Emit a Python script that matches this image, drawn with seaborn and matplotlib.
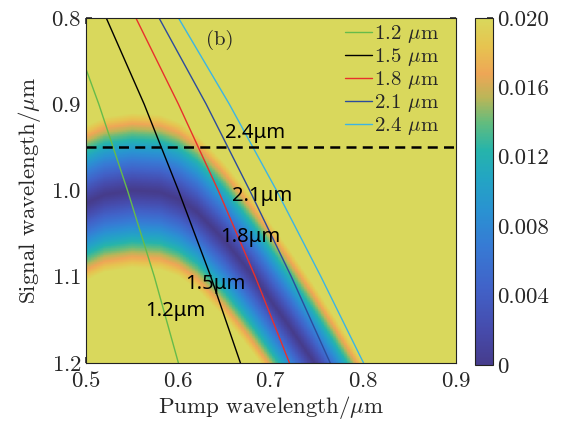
import matplotlib
matplotlib.use("Agg")
import matplotlib.pyplot as plt
import seaborn as sns
import numpy as np
from matplotlib.colors import LinearSegmentedColormap
from matplotlib.ticker import MultipleLocator

# idler wavelengths (um) and the pump wavelength where each line crosses the signal rows
idler_labels = ["1.2", "1.5", "1.8", "2.1", "2.4"]
idler_colors = ["#66bb4a", "#000000", "#e8302c", "#2c4c9c", "#3cb4e4"]
signal_rows = [0.8, 0.9, 1.0, 1.1, 1.2]
pump_12 = [0.480, 0.514, 0.545, 0.574, 0.600]
pump_15 = [0.522, 0.563, 0.600, 0.635, 0.667]
pump_18 = [0.554, 0.600, 0.643, 0.683, 0.720]
pump_21 = [0.579, 0.630, 0.677, 0.722, 0.764]
pump_24 = [0.600, 0.655, 0.706, 0.754, 0.800]

# centre of the low-mismatch band and its half width
ridge_pump = [0.45, 0.48, 0.50, 0.52, 0.55, 0.58, 0.60, 0.62, 0.65, 0.68, 0.70, 0.72, 0.75, 0.78, 0.80, 0.85, 0.90]
ridge_signal = [1.05, 1.03, 1.015, 1.005, 1.000, 1.002, 1.010, 1.025, 1.058, 1.098, 1.128, 1.158, 1.205, 1.255, 1.29, 1.38, 1.47]
band_halfwidth = 0.09
band_power = 1.15
vmax = 0.02

cbar_ticks = [0, 0.004, 0.008, 0.012, 0.016, 0.020]
cbar_labels = ["0", "0.004", "0.008", "0.012", "0.016", "0.020"]

notes = ["2.4μm", "2.1μm", "1.8μm", "1.5μm", "1.2μm"]
note_x = [0.683, 0.690, 0.678, 0.640, 0.597]
note_y = [0.933, 1.007, 1.054, 1.108, 1.140]


def main():
    sns.set_theme(style="ticks")
    plt.rcParams["font.family"] = ["cmr10", "DejaVu Serif"]
    plt.rcParams["mathtext.fontset"] = "cm"
    plt.rcParams["axes.formatter.use_mathtext"] = True
    plt.rcParams["axes.unicode_minus"] = False

    parula = LinearSegmentedColormap.from_list("parula_like", [
        (0.00, (70/255, 60/255, 140/255)),
        (0.10, (70/255, 75/255, 172/255)),
        (0.22, (65/255, 98/255, 200/255)),
        (0.34, (55/255, 122/255, 212/255)),
        (0.44, (42/255, 145/255, 210/255)),
        (0.54, (35/255, 165/255, 195/255)),
        (0.62, (38/255, 180/255, 170/255)),
        (0.70, (100/255, 188/255, 125/255)),
        (0.77, (185/255, 182/255, 88/255)),
        (0.84, (238/255, 166/255, 86/255)),
        (0.92, (230/255, 196/255, 80/255)),
        (1.00, (217/255, 216/255, 92/255)),
    ])

    fig = plt.figure(figsize=(5.61, 4.25), dpi=100)
    ax = fig.add_axes([0.153, 0.146, 0.66, 0.812])
    cax = fig.add_axes([0.847, 0.141, 0.032, 0.817])

    px = np.linspace(0.5, 0.9, 500)
    sy = np.linspace(0.8, 1.2, 500)
    P, S = np.meshgrid(px, sy)
    centre = np.interp(P, ridge_pump, ridge_signal)
    dist = np.abs(S - centre) / band_halfwidth
    field = np.clip(vmax * dist ** band_power, 0, vmax)

    mesh = ax.pcolormesh(px, sy, field, cmap=parula, vmin=0, vmax=vmax,
                         shading="auto", rasterized=True)

    for lab, col, pumps in zip(idler_labels, idler_colors,
                               [pump_12, pump_15, pump_18, pump_21, pump_24]):
        sns.lineplot(x=pumps, y=signal_rows, ax=ax, color=col, lw=1.0,
                     sort=False, estimator=None, label=lab + r" $\mu$m")

    ax.axhline(0.95, color="black", lw=1.8, dashes=(4, 2.5))

    for t, x, y in zip(notes, note_x, note_y):
        ax.text(x, y, t, ha="center", va="center", fontsize=14.5,
                family=["Noto Sans", "DejaVu Sans"], color="black")
    ax.text(0.645, 0.826, "(b)", ha="center", va="center", fontsize=15)

    ax.set_xlim(0.5, 0.9)
    ax.set_ylim(1.2, 0.8)
    ax.set_xticks([0.5, 0.6, 0.7, 0.8, 0.9])
    ax.set_yticks([0.8, 0.9, 1.0, 1.1, 1.2])
    ax.yaxis.set_minor_locator(MultipleLocator(0.05))
    ax.tick_params(axis="both", which="both", direction="in", top=True, right=True,
                   color="#333333", labelsize=16.5)
    ax.tick_params(axis="both", which="major", length=4)
    ax.tick_params(axis="y", which="minor", length=2.5)
    ax.tick_params(axis="x", pad=6)
    ax.tick_params(axis="y", pad=3)
    for sp in ax.spines.values():
        sp.set_color("#222222")
        sp.set_linewidth(0.8)

    ax.set_xlabel(r"Pump wavelength/$\mu$m", fontsize=16.5, labelpad=2)
    ax.set_ylabel(r"Signal wavelength/$\mu$m", fontsize=16.5, labelpad=6)

    ax.legend(loc="upper right", bbox_to_anchor=(0.955, 0.985), frameon=False,
              fontsize=15, handlelength=1.3, handletextpad=0.1,
              labelspacing=0.05, borderpad=0, borderaxespad=0)

    cb = fig.colorbar(mesh, cax=cax)
    cb.set_ticks(cbar_ticks)
    cb.set_ticklabels(cbar_labels)
    cax.yaxis.set_minor_locator(MultipleLocator(0.002))
    cax.tick_params(which="both", direction="in", labelsize=16.5, pad=3, color="#333333")
    cax.tick_params(which="major", length=4)
    cax.tick_params(which="minor", length=2.5)
    cb.outline.set_linewidth(0.8)
    cb.outline.set_edgecolor("#222222")

    fig.savefig("out.png", dpi=100)


if __name__ == "__main__":
    main()
